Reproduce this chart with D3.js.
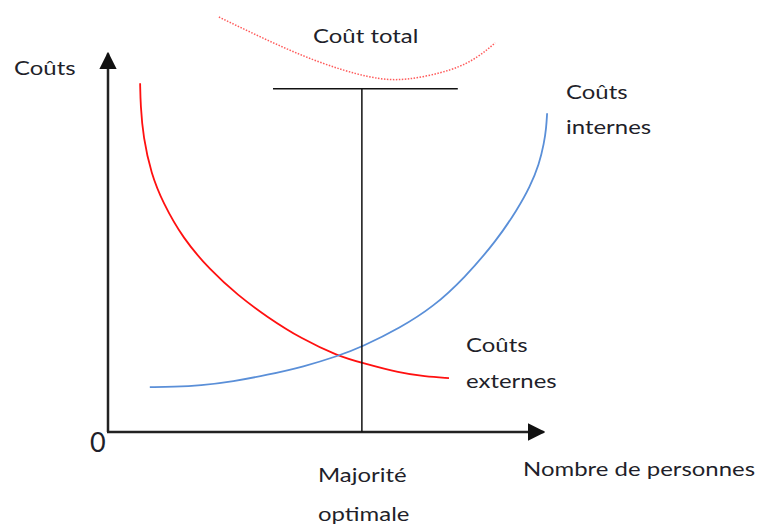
<!DOCTYPE html>
<html>
<head>
<meta charset="utf-8">
<script src="https://cdn.jsdelivr.net/npm/d3@7"></script>
<style>
  body { margin: 0; background: #fff; }
  text { font-family: Lato, "Open Sans", sans-serif; fill: #1f1f2a; }
</style>
</head>
<body>
<svg id="chart"></svg>
<script>

var width = 761;
var height = 525;

// curves, in chart units (x: nombre de personnes, y: coûts)
var externes = [
  [0.73, 9.18], [0.74, 8.60], [0.80, 7.76], [0.98, 6.80], [1.25, 6.03],
  [1.70, 5.10], [2.32, 4.26], [2.95, 3.60], [3.61, 3.03], [4.40, 2.45],
  [5.23, 2.00], [5.77, 1.82], [6.64, 1.55], [7.20, 1.46], [7.75, 1.42]
];
var internes = [
  [0.95, 1.18], [1.50, 1.19], [2.09, 1.22], [2.85, 1.33], [3.61, 1.50],
  [4.45, 1.72], [5.23, 2.00], [5.77, 2.24], [6.64, 2.74], [7.40, 3.30],
  [8.10, 4.05], [8.84, 5.05], [9.30, 5.85], [9.59, 6.45], [9.80, 7.05],
  [9.91, 7.60], [9.96, 8.00], [9.98, 8.39]
];
var total = [
  [2.52, 10.92], [3.61, 10.32], [4.75, 9.76], [5.89, 9.36], [6.80, 9.29],
  [7.77, 9.53], [8.39, 9.87], [8.80, 10.24]
];
var optimum = 5.77;
var optimumTop = 9.03;
var barre = [3.75, 7.95];

var svg = d3.select("#chart")
  .attr("width", width)
  .attr("height", height);

var x = d3.scaleLinear().domain([0, 10]).range([108, 548]);
var y = d3.scaleLinear().domain([0, 10]).range([432, 52]);

var line = d3.line()
  .x(function(d) { return x(d[0]); })
  .y(function(d) { return y(d[1]); })
  .curve(d3.curveBasis);

var lineTotal = d3.line()
  .x(function(d) { return x(d[0]); })
  .y(function(d) { return y(d[1]); })
  .curve(d3.curveNatural);

// arrow heads
var defs = svg.append("defs");
defs.append("marker")
  .attr("id", "arrow")
  .attr("viewBox", "0 0 10 10")
  .attr("refX", 9).attr("refY", 5)
  .attr("markerWidth", 7).attr("markerHeight", 7)
  .attr("markerUnits", "strokeWidth")
  .attr("orient", "auto")
  .append("path")
  .attr("d", "M0,0 L10,5 L0,10 Z")
  .attr("fill", "#111");

// axes
svg.append("line")
  .attr("x1", x(0)).attr("y1", y(0))
  .attr("x2", x(0)).attr("y2", y(9.96))
  .attr("stroke", "#222").attr("stroke-width", 2.5)
  .attr("marker-end", "url(#arrow)");

svg.append("line")
  .attr("x1", x(0) - 1).attr("y1", y(0))
  .attr("x2", x(9.9)).attr("y2", y(0))
  .attr("stroke", "#222").attr("stroke-width", 2.5)
  .attr("marker-end", "url(#arrow)");

// curves
svg.append("path")
  .datum(total)
  .attr("d", lineTotal)
  .attr("fill", "none")
  .attr("stroke", "#ff5a5a")
  .attr("stroke-width", 1.5)
  .attr("stroke-dasharray", "1.5 1.5");

svg.append("path")
  .datum(externes)
  .attr("d", line)
  .attr("fill", "none")
  .attr("stroke", "#ff1010")
  .attr("stroke-width", 1.8);

svg.append("path")
  .datum(internes)
  .attr("d", line)
  .attr("fill", "none")
  .attr("stroke", "#5a8fd8")
  .attr("stroke-width", 1.8);

// optimum
svg.append("line")
  .attr("x1", x(optimum)).attr("y1", y(0))
  .attr("x2", x(optimum)).attr("y2", y(optimumTop))
  .attr("stroke", "#111").attr("stroke-width", 1.5);

svg.append("line")
  .attr("x1", x(barre[0])).attr("y1", y(optimumTop))
  .attr("x2", x(barre[1])).attr("y2", y(optimumTop))
  .attr("stroke", "#111").attr("stroke-width", 1.5);

// labels (source picture is stretched horizontally)
var labels = [
  { t: "Coûts", x: 14, y: 75 },
  { t: "Coût total", x: 313, y: 43 },
  { t: "Coûts", x: 566, y: 99 },
  { t: "internes", x: 566, y: 134 },
  { t: "Coûts", x: 466, y: 352 },
  { t: "externes", x: 466, y: 388 },
  { t: "Nombre de personnes", x: 523, y: 476 },
  { t: "Majorité", x: 318, y: 482 },
  { t: "optimale", x: 318, y: 521 }
];

svg.selectAll("text.lab")
  .data(labels)
  .enter().append("text")
  .attr("class", "lab")
  .attr("transform", function(d) { return "translate(" + d.x + "," + d.y + ") scale(1.26,1)"; })
  .attr("font-size", 19)
  .text(function(d) { return d.t; });

svg.append("text")
  .attr("x", 90).attr("y", 452)
  .attr("font-size", 27)
  .text("0");

</script>
</body>
</html>
